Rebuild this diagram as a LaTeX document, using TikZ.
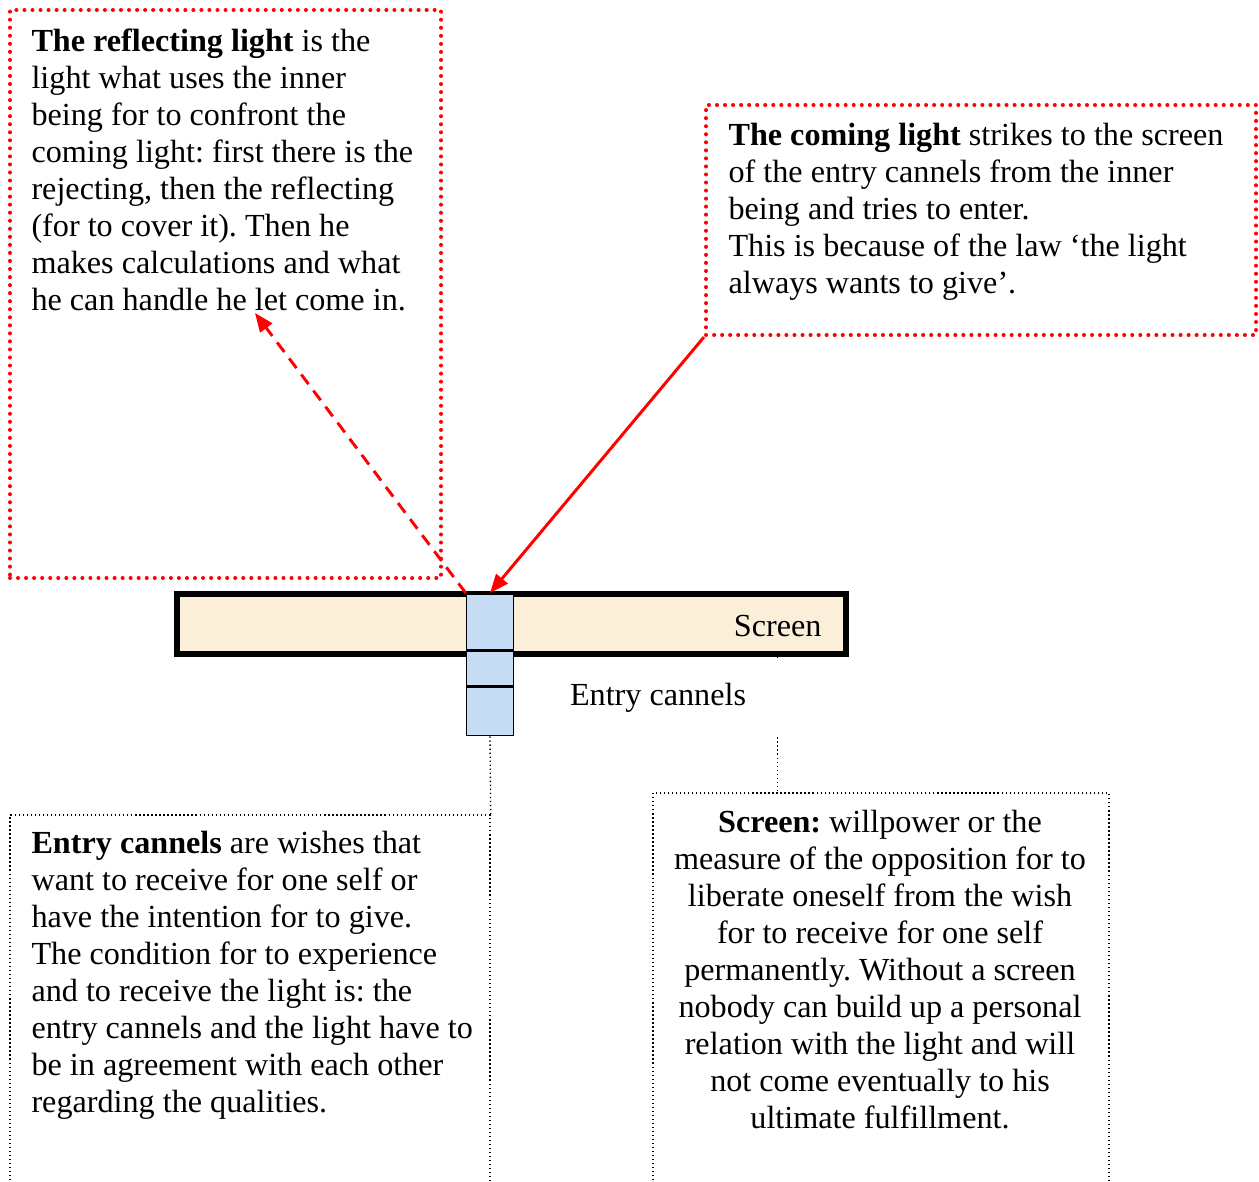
\documentclass[tikz,border=0pt]{standalone}
\usepackage{fontspec}
\setmainfont{Liberation Serif}
\usetikzlibrary{positioning}
\usetikzlibrary{fit}
\usetikzlibrary{arrows.meta}
\definecolor{screenfill}{HTML}{FBEFD9}
\definecolor{cannelfill}{HTML}{C6DBF4}
\frenchspacing

\begin{document}
\begin{tikzpicture}[x=0.373pt, y=-0.373pt, node distance=0pt,
    font=\fontsize{12pt}{13.8pt}\selectfont,
    redbox/.style={draw=red, line width=1.5pt, dash pattern=on 0pt off 3pt, line cap=round, inner sep=0pt},
    blackbox/.style={draw, line width=0.5pt, densely dotted, inner sep=0pt},
    words/.style={align=left, inner sep=0pt, anchor=north west},
    cannel/.style={draw, fill=cannelfill, line width=0.6pt, minimum width=17.5pt, inner sep=0pt},
    redarrow/.style={draw=red, line width=1.1pt, -{Triangle[length=7pt, width=5.5pt]}}]

    \useasboundingbox (0,0) rectangle (1259,1181);
    \clip (0,0) rectangle (1259,1181);

    \node(refbox)[redbox, fit={(10,10) (441,578)}]{};
    \node(reftext)[words] at (31,28){\textbf{The reflecting light} is the\\
        light what uses the inner\\
        being for to confront the\\
        coming light: first there is the\\
        rejecting, then the reflecting\\
        (for to cover it). Then he\\
        makes calculations and what\\
        he can handle he let come in.};
    \coordinate(glance) at (255,313);

    \node(infobox)[redbox, fit={(706,105) (1256,335)}]{};
    \node(infotext)[words] at (728,123){\textbf{The coming light} strikes to the screen\\
        of the entry cannels from the inner\\
        being and tries to enter.\\
        This is because of the law ‘the light\\
        always wants to give’.};

    \node(screen)[draw, fill=screenfill, line width=2.2pt, inner sep=0pt, fit={(177,594) (846,654)}]{};
    \node(scrlabel)[inner sep=0pt, anchor=east] at (822,626){Screen};

    \node(c1)[cannel, minimum height=20.8pt, anchor=north] at (490,593){};
    \node(c2)[cannel, minimum height=13pt, below=of c1]{};
    \node(c3)[cannel, minimum height=17.9pt, below=of c2]{};

    \node(entbox)[blackbox, fit={(10,815) (490,1200)}]{};
    \node(enttext)[words] at (31,831){\textbf{Entry cannels} are wishes that\\
        want to receive for one self or\\
        have the intention for to give.\\
        The condition for to experience\\
        and to receive the light is: the\\
        entry cannels and the light have to\\
        be in agreement with each other\\
        regarding the qualities.};

    \node(scrbox)[blackbox, fit={(653,793) (1109,1200)}]{};
    \node(scrtext)[align=center, inner sep=0pt, anchor=north] at (880,810){\textbf{Screen:} willpower or the\\
        measure of the opposition for to\\
        liberate oneself from the wish\\
        for to receive for one self\\
        permanently. Without a screen\\
        nobody can build up a personal\\
        relation with the light and will\\
        not come eventually to his\\
        ultimate fulfillment.};

    \draw[line width=0.5pt, densely dotted] (c3.south) -- (entbox.north east);
    \draw[line width=0.5pt, densely dotted] (scrlabel |- screen.south) -- (scrlabel |- scrbox.north);

    \node(entlabel)[fill=white, inner sep=0pt, minimum width=92pt, minimum height=28pt] at (658,698){Entry cannels};

    \draw[redarrow] (infobox.south west) -- (c1.north);
    \draw[redarrow, dash pattern=on 4.5pt off 3pt] (c1.north west) -- (glance);

\end{tikzpicture}
\end{document}
